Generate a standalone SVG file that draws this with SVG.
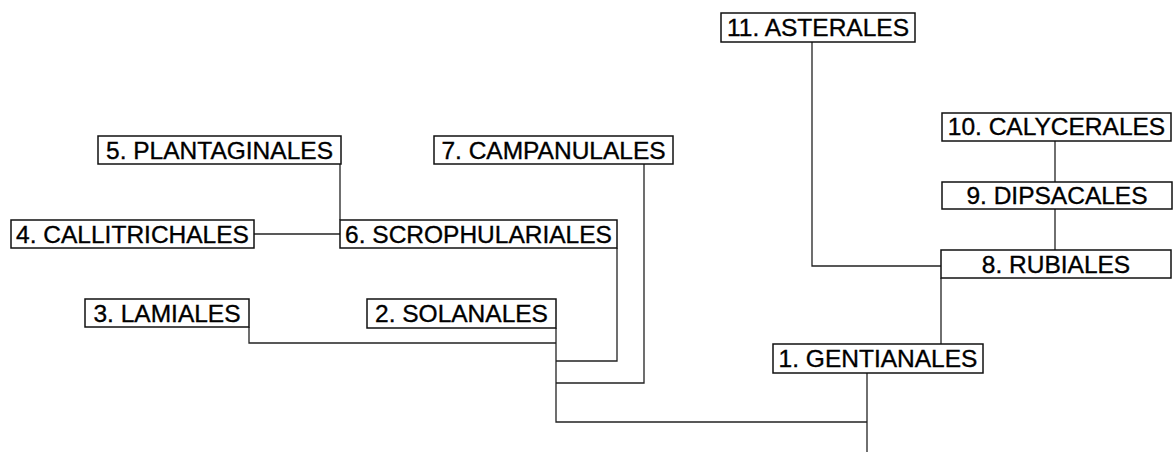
<svg xmlns="http://www.w3.org/2000/svg" width="1176" height="452" viewBox="0 0 1176 452">
<style>
.box{fill:#fff;stroke:#111;stroke-width:1.5}
.lbl{font-family:"Liberation Sans",Arial,sans-serif;font-size:24.5px;fill:#000;stroke:#000;stroke-width:0.35;text-anchor:middle}
.ln{fill:none;stroke:#222;stroke-width:1.3}
</style>
<rect width="1176" height="452" fill="#fff"/>
<g id="connectors">
<polyline class="ln" points="340,164 340,220"/>
<polyline class="ln" points="254,234 340,234"/>
<polyline class="ln" points="617,248 617,361 556,361"/>
<polyline class="ln" points="644,164 644,383 556,383"/>
<polyline class="ln" points="249,327 249,343 556,343"/>
<polyline class="ln" points="556,328 556,422 867,422"/>
<polyline class="ln" points="867,373 867,452"/>
<polyline class="ln" points="941,278 941,344"/>
<polyline class="ln" points="812,42 812,266 941,266"/>
<polyline class="ln" points="1055,209 1055,250"/>
<polyline class="ln" points="1055,141 1055,182"/>
</g>
<g id="n11"><rect class="box" x="721" y="13" width="194" height="29"/><text class="lbl" x="818" y="36">11. ASTERALES</text></g>
<g id="n10"><rect class="box" x="942" y="113" width="229" height="28"/><text class="lbl" x="1056.5" y="135">10. CALYCERALES</text></g>
<g id="n9"><rect class="box" x="942" y="182" width="230" height="27"/><text class="lbl" x="1057" y="204">9. DIPSACALES</text></g>
<g id="n8"><rect class="box" x="941" y="250" width="230" height="28"/><text class="lbl" x="1056" y="273">8. RUBIALES</text></g>
<g id="n7"><rect class="box" x="434" y="136" width="239" height="28"/><text class="lbl" x="553.5" y="159">7. CAMPANULALES</text></g>
<g id="n5"><rect class="box" x="98" y="136" width="243" height="28"/><text class="lbl" x="219.5" y="159">5. PLANTAGINALES</text></g>
<g id="n4"><rect class="box" x="11" y="220" width="243" height="28"/><text class="lbl" x="132.5" y="243">4. CALLITRICHALES</text></g>
<g id="n6"><rect class="box" x="340" y="220" width="277" height="28"/><text class="lbl" x="478.5" y="243">6. SCROPHULARIALES</text></g>
<g id="n3"><rect class="box" x="85" y="299" width="164" height="28"/><text class="lbl" x="167" y="322">3. LAMIALES</text></g>
<g id="n2"><rect class="box" x="367" y="299" width="189" height="29"/><text class="lbl" x="461.5" y="322">2. SOLANALES</text></g>
<g id="n1"><rect class="box" x="773" y="344" width="210" height="29"/><text class="lbl" x="878" y="367">1. GENTIANALES</text></g>
</svg>
